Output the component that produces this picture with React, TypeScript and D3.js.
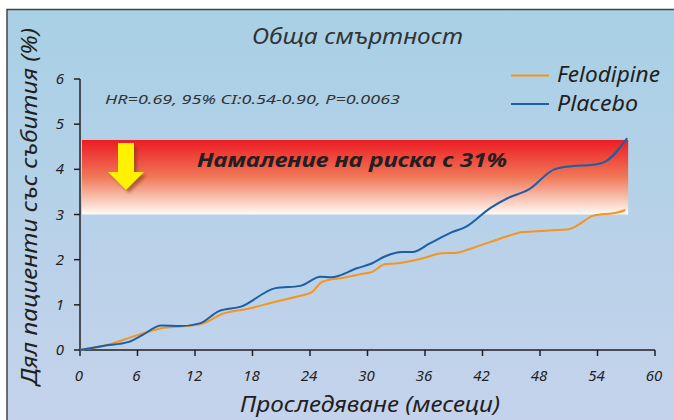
import React from "react";
import * as d3 from "d3";

const xTicks = [0, 6, 12, 18, 24, 30, 36, 42, 48, 54, 60];
const yTicks = [0, 1, 2, 3, 4, 5, 6];

const placeboMonths = [0, 2.4, 5.1, 6.5, 8.5, 10.5, 12.5, 14.5, 16.8, 20.4, 23, 25.1, 26.2, 28.9, 30.5, 31.8, 33.6, 34.7, 36.5, 38.7, 40.3, 42.8, 44.6, 46.8, 49.5, 51.3, 53.5, 54.8, 57.1];
const placeboValues = [0, 0.09, 0.18, 0.33, 0.54, 0.53, 0.59, 0.86, 0.96, 1.37, 1.42, 1.62, 1.61, 1.81, 1.92, 2.07, 2.17, 2.17, 2.36, 2.6, 2.73, 3.14, 3.36, 3.55, 4.0, 4.07, 4.1, 4.17, 4.69];

const felodipineMonths = [0, 2.6, 6, 8.5, 10.5, 12.7, 15, 17.7, 20.4, 23, 24.2, 25.3, 27.5, 29.3, 30.5, 31.8, 33.2, 35.4, 37.8, 39.2, 41, 44.6, 46.2, 48.6, 51.1, 52.2, 53.5, 56.2, 56.9];
const felodipineValues = [0, 0.1, 0.33, 0.48, 0.52, 0.58, 0.81, 0.92, 1.07, 1.2, 1.28, 1.51, 1.6, 1.68, 1.73, 1.9, 1.92, 2.01, 2.14, 2.15, 2.26, 2.52, 2.61, 2.64, 2.68, 2.8, 2.97, 3.05, 3.1];

const seriesNames = ["Felodipine", "Placebo"];
const seriesColors = ["#f7941d", "#1b5fa6"];

const bandRange = [3, 4.65];
const bandMonthEnd = 57.2;

const title = "Обща смъртност";
const xLabel = "Проследяване (месеци)";
const yLabel = "Дял пациенти със събития (%)";
const statsText = "HR=0.69, 95% CI:0.54-0.90, P=0.0063";
const bandText = "Намаление на риска с 31%";

const FONT = "'Noto Sans', 'Open Sans', sans-serif";

export default function App() {
  const W = 674, H = 420;
  const x = d3.scaleLinear().domain([0, 60]).range([80, 655]);
  const y = d3.scaleLinear().domain([0, 6]).range([350, 79]);

  const line = d3
    .line<[number, number]>()
    .x((d) => x(d[0]))
    .y((d) => y(d[1]))
    .curve(d3.curveMonotoneX);

  const felo = felodipineMonths.map((m, i) => [m, felodipineValues[i]] as [number, number]);
  const plac = placeboMonths.map((m, i) => [m, placeboValues[i]] as [number, number]);

  const ax = 126, ay = 143;
  const arrowPath = `M${ax - 8},${ay} L${ax + 8},${ay} L${ax + 8},${ay + 29} L${ax + 18},${ay + 29} L${ax},${ay + 47} L${ax - 18},${ay + 29} L${ax - 8},${ay + 29} Z`;

  const legendWidths = [103, 81];

  return (
    <svg width={W} height={H} style={{ position: "absolute", left: 0, top: 0 }} fontFamily={FONT}>
      <defs>
        <linearGradient id="bg" x1="0" y1="0" x2="0" y2="1">
          <stop offset="0" stopColor="#a8d0e5" />
          <stop offset="1" stopColor="#c6d3ec" />
        </linearGradient>
        <linearGradient id="band" x1="0" y1="0" x2="0" y2="1">
          <stop offset="0" stopColor="#ec1c24" />
          <stop offset="0.5" stopColor="#f07858" />
          <stop offset="1" stopColor="#fffbf7" />
        </linearGradient>
        <filter id="blur" x="-20%" y="-20%" width="140%" height="140%">
          <feGaussianBlur stdDeviation="1.5" />
        </filter>
      </defs>
      <rect x={0} y={0} width={W} height={H} fill="#ffffff" />
      <rect x={7} y={9.5} width={W + 10} height={H + 10} fill="url(#bg)" stroke="#444" strokeWidth={1.5} />

      <rect
        x={x(0) + 2}
        y={y(bandRange[1])}
        width={x(bandMonthEnd) - x(0) - 2}
        height={y(bandRange[0]) - y(bandRange[1])}
        fill="url(#band)"
      />
      <text
        x={197}
        y={167}
        fontSize={20}
        fontWeight="bold"
        fontStyle="italic"
        fill="#231f20"
        textLength={310}
        lengthAdjust="spacingAndGlyphs"
      >
        {bandText}
      </text>

      <path d={arrowPath} transform="translate(3,3)" fill="#7a3a10" opacity={0.55} filter="url(#blur)" />
      <path d={arrowPath} fill="#fff200" />

      <line x1={x(0)} x2={x(60)} y1={y(0)} y2={y(0)} stroke="#231f20" strokeWidth={1.5} />
      <line x1={x(0)} x2={x(0)} y1={y(0)} y2={y(6)} stroke="#231f20" strokeWidth={1.5} />
      {xTicks.map((t) => (
        <g key={"x" + t}>
          <line x1={x(t)} x2={x(t)} y1={y(0)} y2={y(0) + 6} stroke="#231f20" strokeWidth={1.5} />
          <text x={x(t) - 1} y={381} fontSize={15} fontStyle="italic" fill="#231f20" textAnchor="middle">
            {t}
          </text>
        </g>
      ))}
      {yTicks.map((t) => (
        <g key={"y" + t}>
          <line x1={x(0) - 6} x2={x(0)} y1={y(t)} y2={y(t)} stroke="#231f20" strokeWidth={1.5} />
          <text x={64} y={y(t) + 5} fontSize={15} fontStyle="italic" fill="#231f20" textAnchor="end">
            {t}
          </text>
        </g>
      ))}

      <path d={line(felo) || ""} fill="none" stroke={seriesColors[0]} strokeWidth={2} />
      <path d={line(plac) || ""} fill="none" stroke={seriesColors[1]} strokeWidth={2} />

      <text x={252} y={44} fontSize={21} fontStyle="italic" fill="#333" textLength={211} lengthAdjust="spacingAndGlyphs">
        {title}
      </text>
      <text x={105} y={104} fontSize={13} fontStyle="italic" fill="#333" textLength={295} lengthAdjust="spacingAndGlyphs">
        {statsText}
      </text>
      <text x={240} y={412} fontSize={21} fontStyle="italic" fill="#231f20" textLength={260} lengthAdjust="spacingAndGlyphs">
        {xLabel}
      </text>
      <text
        transform="translate(37,385) rotate(-90)"
        fontSize={21}
        fontStyle="italic"
        fill="#231f20"
        textLength={357}
        lengthAdjust="spacingAndGlyphs"
      >
        {yLabel}
      </text>

      {seriesNames.map((n, i) => (
        <g key={n}>
          <line x1={511} x2={549} y1={75.5 + i * 28.5} y2={75.5 + i * 28.5} stroke={seriesColors[i]} strokeWidth={2} />
          <text
            x={557}
            y={82 + i * 28.5}
            fontSize={21}
            fontStyle="italic"
            fill="#231f20"
            textLength={legendWidths[i]}
            lengthAdjust="spacingAndGlyphs"
          >
            {n}
          </text>
        </g>
      ))}
    </svg>
  );
}
